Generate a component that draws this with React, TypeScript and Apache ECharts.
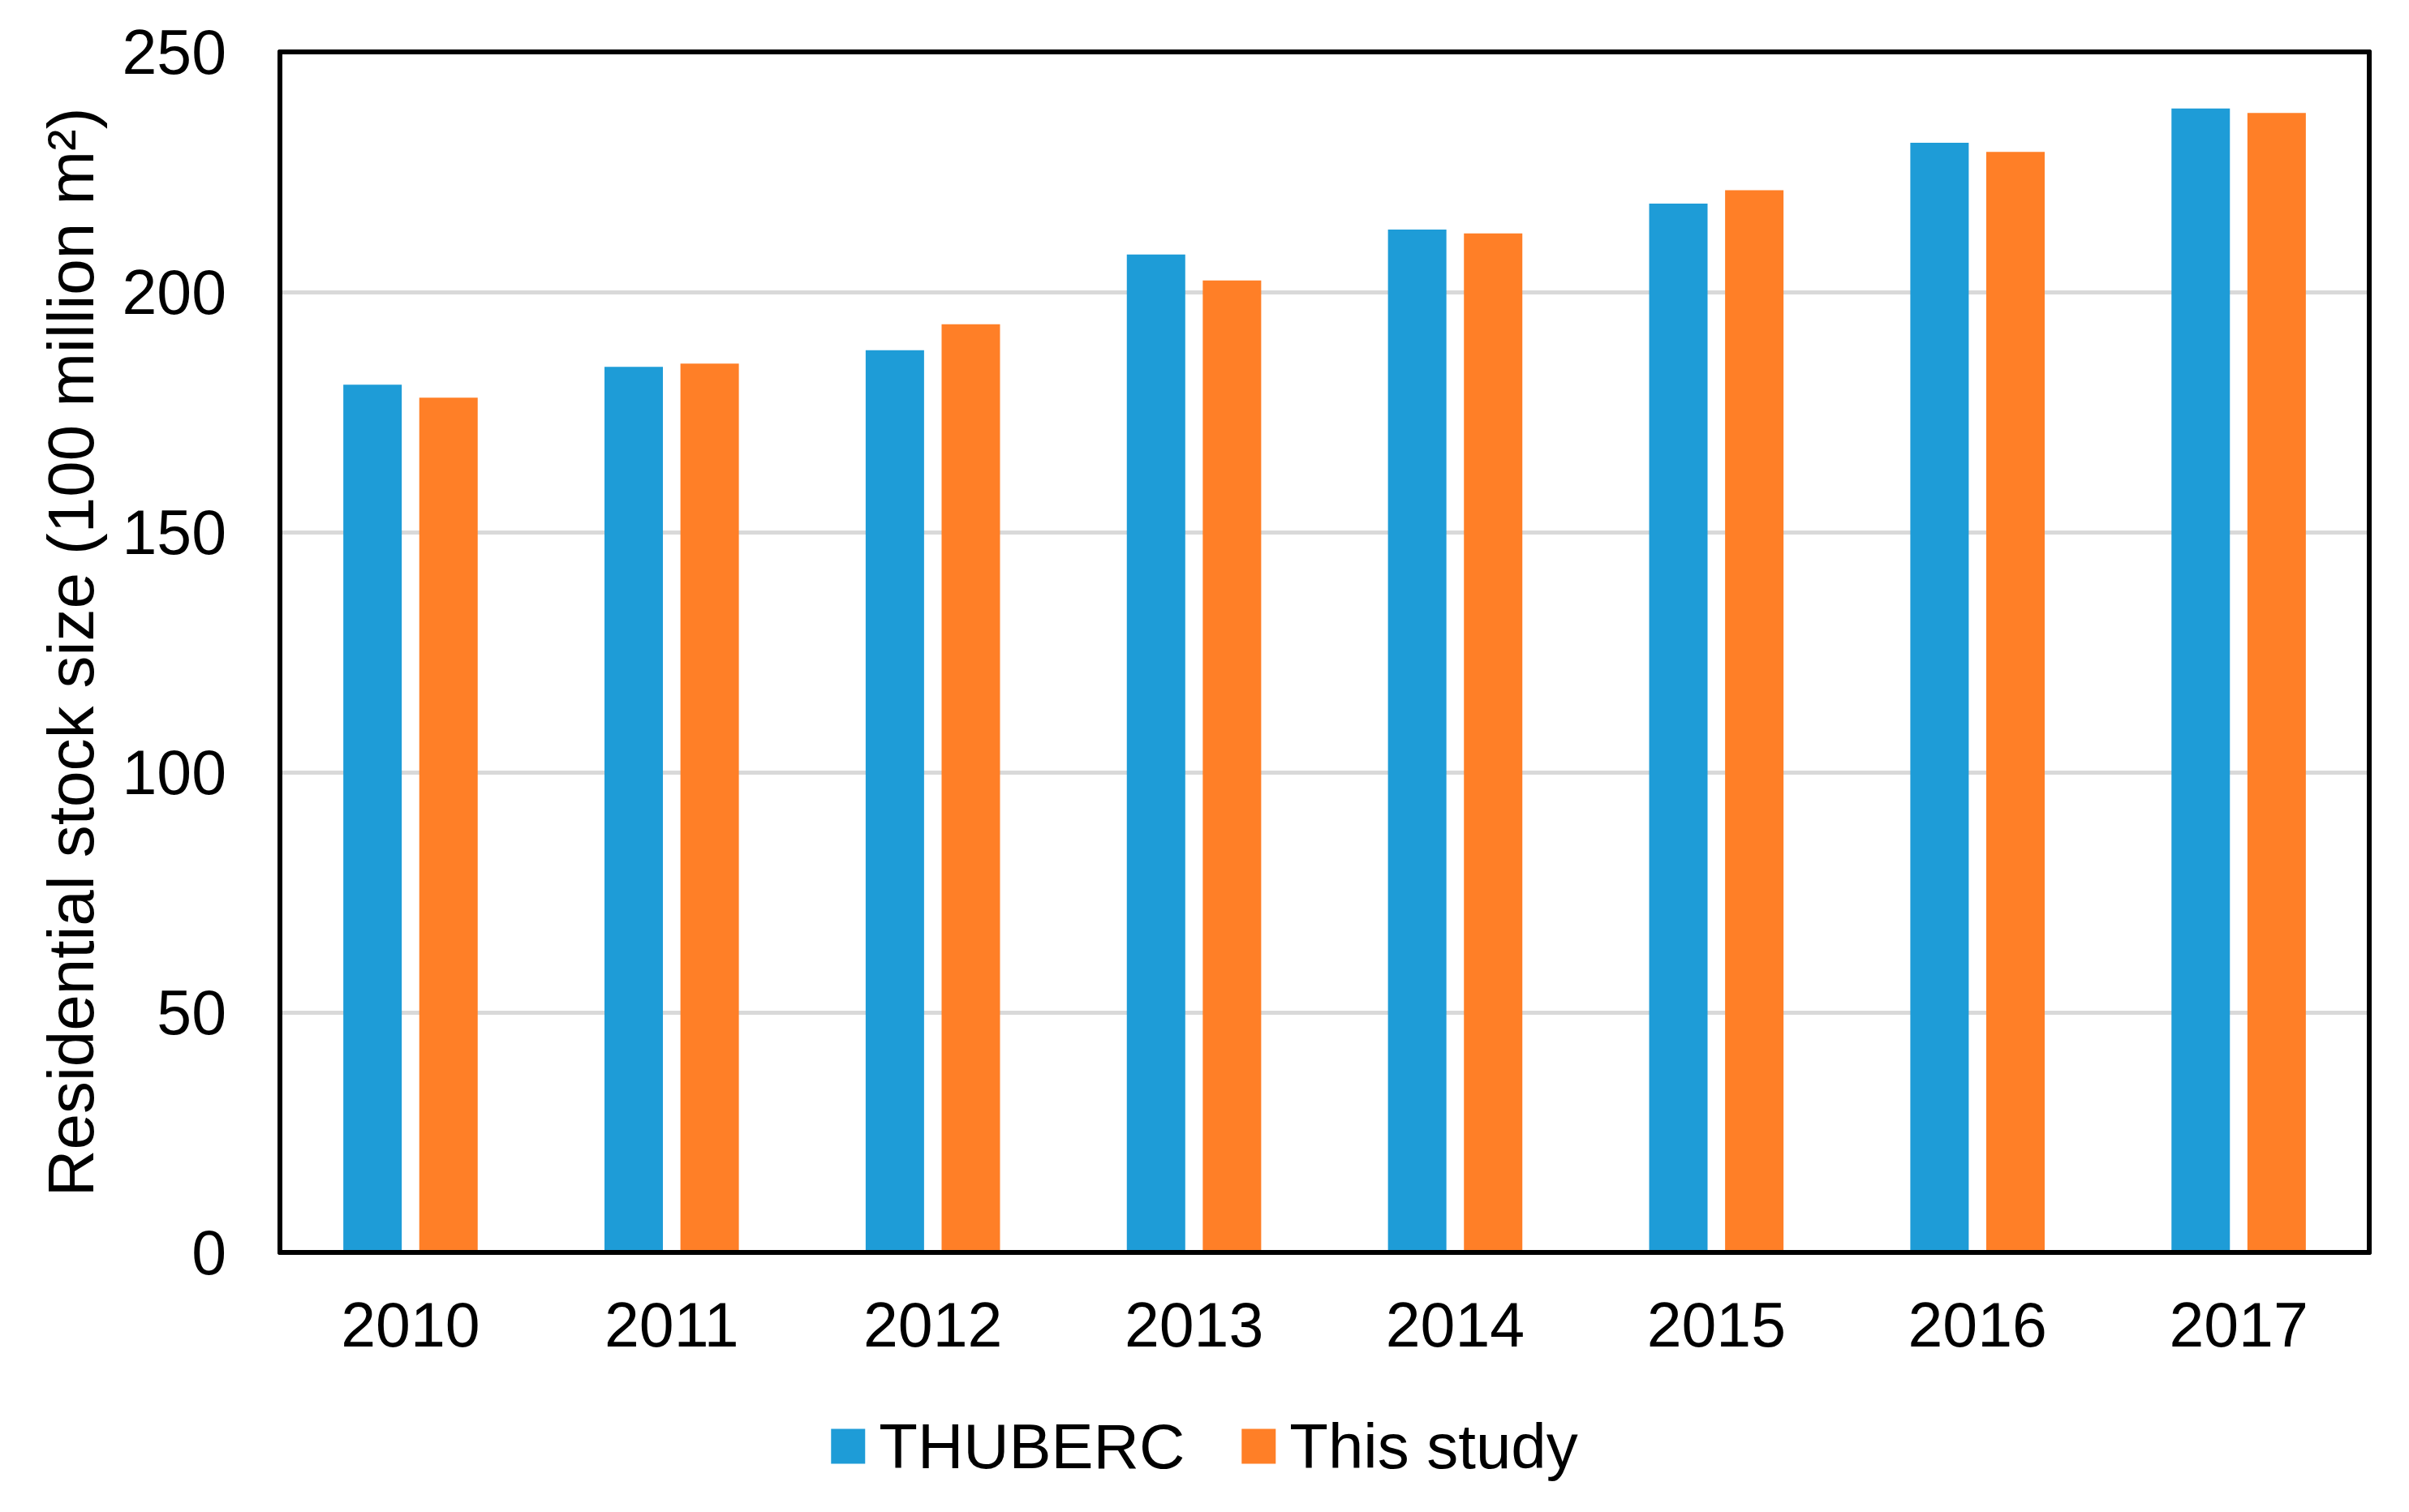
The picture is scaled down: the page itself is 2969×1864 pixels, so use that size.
import React, { useEffect, useRef } from "react";
import * as echarts from "echarts";

const years = ["2010", "2011", "2012", "2013", "2014", "2015", "2016", "2017"];
const thuberc = [180.7, 184.4, 187.9, 207.8, 213.0, 218.4, 231.1, 238.2];
const thisStudy = [178.0, 185.1, 193.3, 202.4, 212.2, 221.2, 229.2, 237.3];
const yTicks = { min: 0, max: 250, interval: 50 };
const seriesNames = ["THUBERC", "This study"];
const colors = ["#1E9CD7", "#FF7F27"];
const yAxisName = "Residential stock size (100 million m\u00B2)";

const FONT = "'Liberation Sans', Arial, sans-serif";

export default function App() {
  const ref = useRef<HTMLDivElement>(null);
  useEffect(() => {
    document.body.style.margin = "0";
    const chart = echarts.init(ref.current!, null, { renderer: "svg" });
    const borderLine = { show: true, onZero: false, lineStyle: { color: "#000", width: 6 } };
    const borderY = (position: string) => ({
      type: "value",
      min: yTicks.min,
      max: yTicks.max,
      interval: yTicks.interval,
      position,
      z: 5,
      axisLine: borderLine,
      axisTick: { show: false },
      axisLabel: { show: false },
      splitLine: { show: false },
    });
    chart.setOption({
      animation: false,
      backgroundColor: "#fff",
      textStyle: { fontFamily: FONT },
      grid: { left: 345, right: 49, top: 64, bottom: 320, containLabel: false },
      legend: {
        data: seriesNames,
        left: "center",
        top: 1739,
        icon: "rect",
        itemWidth: 42,
        itemHeight: 43,
        itemGap: 70,
        textStyle: { fontSize: 78, color: "#000", fontFamily: FONT, padding: [0, 0, 0, 12] },
      },
      xAxis: [
        {
          type: "category",
          data: years,
          position: "bottom",
          z: 5,
          axisLine: borderLine,
          axisTick: { show: false },
          axisLabel: { fontSize: 77, color: "#000", margin: 50, fontFamily: FONT },
        },
        {
          type: "category",
          data: years,
          position: "top",
          z: 5,
          axisLine: borderLine,
          axisTick: { show: false },
          axisLabel: { show: false },
        },
      ],
      yAxis: [
        {
          type: "value",
          min: yTicks.min,
          max: yTicks.max,
          interval: yTicks.interval,
          position: "left",
          axisLine: { show: false },
          axisTick: { show: false },
          axisLabel: { fontSize: 77, color: "#000", margin: 66, fontFamily: FONT },
          splitLine: { show: true, lineStyle: { color: "#D9D9D9", width: 5 } },
          name: yAxisName,
          nameLocation: "middle",
          nameGap: 218,
          nameTextStyle: { fontSize: 80, color: "#000", fontFamily: FONT },
        },
        borderY("right"),
        borderY("left"),
      ],
      series: [
        {
          name: seriesNames[0],
          type: "bar",
          data: thuberc,
          barWidth: 72,
          barGap: "30%",
          itemStyle: { color: colors[0] },
        },
        {
          name: seriesNames[1],
          type: "bar",
          data: thisStudy,
          barWidth: 72,
          barGap: "30%",
          itemStyle: { color: colors[1] },
        },
      ],
    });
    return () => chart.dispose();
  }, []);
  return (
    <div
      ref={ref}
      style={{ position: "absolute", left: 0, top: 0, width: 2969, height: 1864 }}
    />
  );
}
